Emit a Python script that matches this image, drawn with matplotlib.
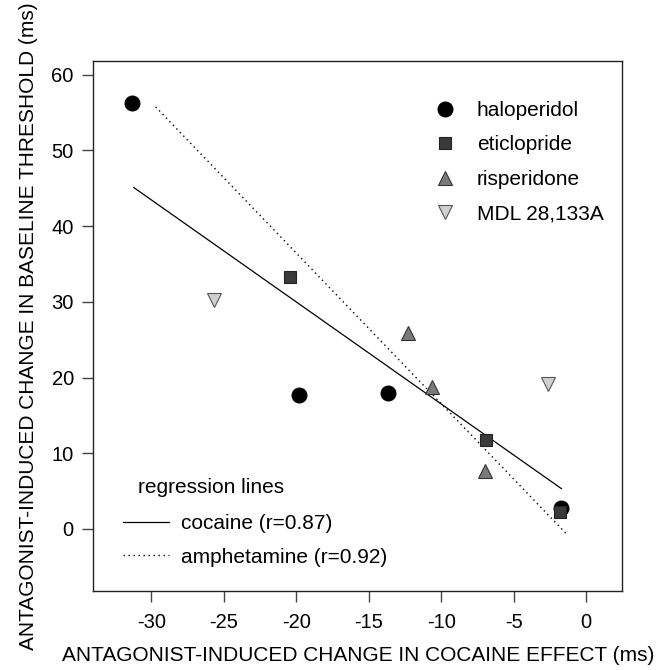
import matplotlib
matplotlib.use("Agg")
import matplotlib.pyplot as plt
import numpy as np

plt.rcParams['font.family'] = ['Liberation Sans', 'DejaVu Sans']

# Data
halo_x = [-31.3, -19.8, -13.7, -1.7]
halo_y = [56.3, 17.7, 18.0, 2.7]
etic_x = [-20.4, -6.9, -1.8]
etic_y = [33.3, 11.8, 2.2]
risp_x = [-12.3, -10.6, -7.0]
risp_y = [25.9, 18.8, 7.6]
mdl_x = [-25.7, -2.6]
mdl_y = [30.3, 19.2]

# regression lines: slope, intercept, x-range
coc_slope, coc_int = -1.348, 3.03
coc_xrange = [-31.2, -1.7]
amph_slope, amph_int = -1.99, -3.35
amph_xrange = [-29.7, -1.3]

xticks = [-30, -25, -20, -15, -10, -5, 0]
yticks = [0, 10, 20, 30, 40, 50, 60]

fig = plt.figure(figsize=(6.65, 6.70), dpi=100)
ax = fig.add_axes([0.1403, 0.1179, 0.7955, 0.7915])

ms = 10.5
h1, = ax.plot(halo_x, halo_y, 'o', color='black', ms=ms, mec='black', ls='none', label='haloperidol', zorder=4)
h2, = ax.plot(etic_x, etic_y, 's', color='#3a3a3a', ms=8.6, mec='#222222', mew=0.8, ls='none', label='eticlopride', zorder=4)
h3, = ax.plot(risp_x, risp_y, '^', color='#7a7a7a', ms=ms, mec='#333333', mew=0.8, ls='none', label='risperidone', zorder=4)
h4, = ax.plot(mdl_x, mdl_y, 'v', color='#d0d0d0', ms=ms, mec='#555555', mew=0.8, ls='none', label='MDL 28,133A', zorder=4)

cx = np.array(coc_xrange)
l1, = ax.plot(cx, coc_slope * cx + coc_int, '-', color='black', lw=0.9, label='cocaine (r=0.87)', zorder=3)
axr = np.array(amph_xrange)
l2, = ax.plot(axr, amph_slope * axr + amph_int, color='black', lw=1.0, ls=(0, (1, 2.6)), label='amphetamine (r=0.92)', zorder=3)

ax.set_xlim(-34.0, 2.5)
ax.set_ylim(-8.2, 61.85)
ax.set_xticks(xticks)
ax.set_yticks(yticks)
ax.set_xticklabels([str(t) for t in xticks])
ax.tick_params(axis='both', direction='out', length=8, width=1, labelsize=14.5, color='#444444')
ax.tick_params(axis='x', pad=8)
ax.tick_params(axis='y', pad=6)
for s in ax.spines.values():
    s.set_linewidth(1.0)
    s.set_color('#222222')

ax.set_xlabel('ANTAGONIST-INDUCED CHANGE IN COCAINE EFFECT (ms)', fontsize=15, labelpad=10)
ax.set_ylabel('ANTAGONIST-INDUCED CHANGE IN BASELINE THRESHOLD (ms)', fontsize=15, labelpad=10)

leg1 = ax.legend(handles=[h1, h2, h3, h4], loc='upper right', bbox_to_anchor=(0.98, 0.94),
                 frameon=False, fontsize=15, handletextpad=0.9, labelspacing=0.75,
                 handlelength=1.2, borderaxespad=0.0)
ax.add_artist(leg1)
leg2 = ax.legend(handles=[l1, l2], loc='lower left', bbox_to_anchor=(0.04, 0.03),
                 frameon=False, fontsize=15,
                 handlelength=2.2, handletextpad=0.6, labelspacing=0.7, borderaxespad=0.0)
ax.text(0.0845, 0.196, 'regression lines', transform=ax.transAxes, fontsize=15,
        ha='left', va='center')

fig.savefig('out.png', dpi=100)
